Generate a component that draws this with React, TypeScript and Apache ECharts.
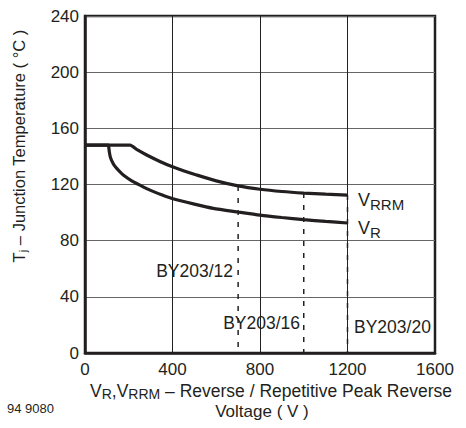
import React, { useEffect, useRef } from "react";
import * as echarts from "echarts";

const xTicks = [0, 400, 800, 1200, 1600];
const yTicks = [0, 40, 80, 120, 160, 200, 240];

const vrrmCurve: [number, number][] = [
  [0, 148], [206, 148], [240, 144.6], [282, 141], [340, 136.6], [400, 132.6],
  [450, 129.8], [510, 126.8], [600, 122.6], [700, 119], [800, 116.6], [900, 115],
  [1000, 113.9], [1100, 113.1], [1200, 112.5],
];
const vrCurve: [number, number][] = [
  [0, 148], [107, 148], [109, 146], [111, 143.5], [115, 140], [122, 137],
  [133, 133.8], [145, 131.5], [160, 129], [175, 126.8], [210, 123], [251, 119.6],
  [300, 115.8], [350, 112.7], [398, 110], [500, 106], [586, 103], [700, 100.4],
  [800, 98.2], [900, 96.5], [1000, 95], [1100, 93.7], [1200, 92.6],
];
const deviceVoltages = [700, 1000, 1200];
const deviceTops = [119, 113.9, 112.5];
const deviceNames = ["BY203/12", "BY203/16", "BY203/20"];

const FONT = "'Liberation Sans', Arial, sans-serif";
const INK = "#231f20";

export default function App() {
  const ref = useRef<HTMLDivElement>(null);
  useEffect(() => {
    if (!ref.current) return;
    const chart = echarts.init(ref.current, undefined, { renderer: "svg" });
    const dashed = deviceVoltages.map((v, i) => ({
      type: "line",
      data: [[v, deviceTops[i]], [v, 0]],
      symbol: "none",
      silent: true,
      lineStyle: { color: INK, width: 1.5, type: [5, 7] },
    }));
    chart.setOption({
      animation: false,
      grid: { left: 85, right: 31, top: 16, bottom: 75, show: true, borderColor: INK, borderWidth: 2.5 },
      xAxis: {
        type: "value", min: xTicks[0], max: xTicks[xTicks.length - 1], interval: 400,
        axisLine: { show: true, lineStyle: { color: INK, width: 2.5 } },
        axisTick: { show: false },
        axisLabel: { color: INK, fontSize: 17, lineHeight: 17, fontFamily: FONT, margin: 8, formatter: (v: number) => String(v) },
        splitLine: { show: true, lineStyle: { color: INK, width: 1 } },
      },
      yAxis: {
        type: "value", min: yTicks[0], max: yTicks[yTicks.length - 1], interval: 40,
        axisLine: { show: true, lineStyle: { color: INK, width: 2.5 } },
        axisTick: { show: false },
        axisLabel: { color: INK, fontSize: 17, fontFamily: FONT, margin: 6 },
        splitLine: { show: true, lineStyle: { color: "#666", width: 1 } },
      },
      series: [
        { type: "line", data: vrrmCurve, symbol: "none", smooth: 0.2, lineStyle: { color: INK, width: 3.2 } },
        { type: "line", data: vrCurve, symbol: "none", smooth: 0.2, lineStyle: { color: INK, width: 3.2 } },
        ...dashed,
      ],
      graphic: [
        {
          type: "text", x: 19, y: 146, rotation: Math.PI / 2,
          style: {
            text: "{n|T}{s|j}{n| – Junction Temperature ( °C )}",
            align: "center", verticalAlign: "middle",
            rich: {
              n: { fontSize: 16.5, fontFamily: FONT, fill: INK },
              s: { fontSize: 11, fontFamily: FONT, fill: INK, padding: [7, 0, 0, 0] },
            },
          },
        },
        {
          type: "text", x: 271, y: 391,
          style: {
            text: "{n|V}{s|R}{n|,V}{s|RRM}{n| – Reverse / Repetitive Peak Reverse}",
            align: "center", verticalAlign: "middle",
            rich: {
              n: { fontSize: 17.5, lineHeight: 18, fontFamily: FONT, fill: INK },
              s: { fontSize: 14, lineHeight: 14, fontFamily: FONT, fill: INK, padding: [6, 0, 0, 0] },
            },
          },
        },
        {
          type: "text", x: 262, y: 411,
          style: { text: "Voltage ( V )", align: "center", verticalAlign: "middle", fontSize: 17, fontFamily: FONT, fill: INK },
        },
        {
          type: "text", x: 7, y: 408,
          style: { text: "94 9080", align: "left", verticalAlign: "middle", fontSize: 13, fontFamily: FONT, fill: INK },
        },
        {
          type: "text", x: 358, y: 200,
          style: {
            text: "{n|V}{s|RRM}", align: "left", verticalAlign: "middle",
            rich: {
              n: { fontSize: 18, fontFamily: FONT, fill: INK },
              s: { fontSize: 15, fontFamily: FONT, fill: INK, padding: [9, 0, 0, 0] },
            },
          },
        },
        {
          type: "text", x: 358, y: 228,
          style: {
            text: "{n|V}{s|R}", align: "left", verticalAlign: "middle",
            rich: {
              n: { fontSize: 18, fontFamily: FONT, fill: INK },
              s: { fontSize: 15, fontFamily: FONT, fill: INK, padding: [9, 0, 0, 0] },
            },
          },
        },
        {
          type: "text", x: 233, y: 271,
          style: { text: deviceNames[0], align: "right", verticalAlign: "middle", fontSize: 17.5, fontFamily: FONT, fill: INK },
        },
        {
          type: "text", x: 300, y: 323,
          style: { text: deviceNames[1], align: "right", verticalAlign: "middle", fontSize: 17.5, fontFamily: FONT, fill: INK },
        },
        {
          type: "text", x: 354, y: 327,
          style: { text: deviceNames[2], align: "left", verticalAlign: "middle", fontSize: 17.5, fontFamily: FONT, fill: INK },
        },
      ],
    });
    return () => chart.dispose();
  }, []);
  return <div ref={ref} style={{ width: 466, height: 428, position: "absolute", left: 0, top: 0 }} />;
}
